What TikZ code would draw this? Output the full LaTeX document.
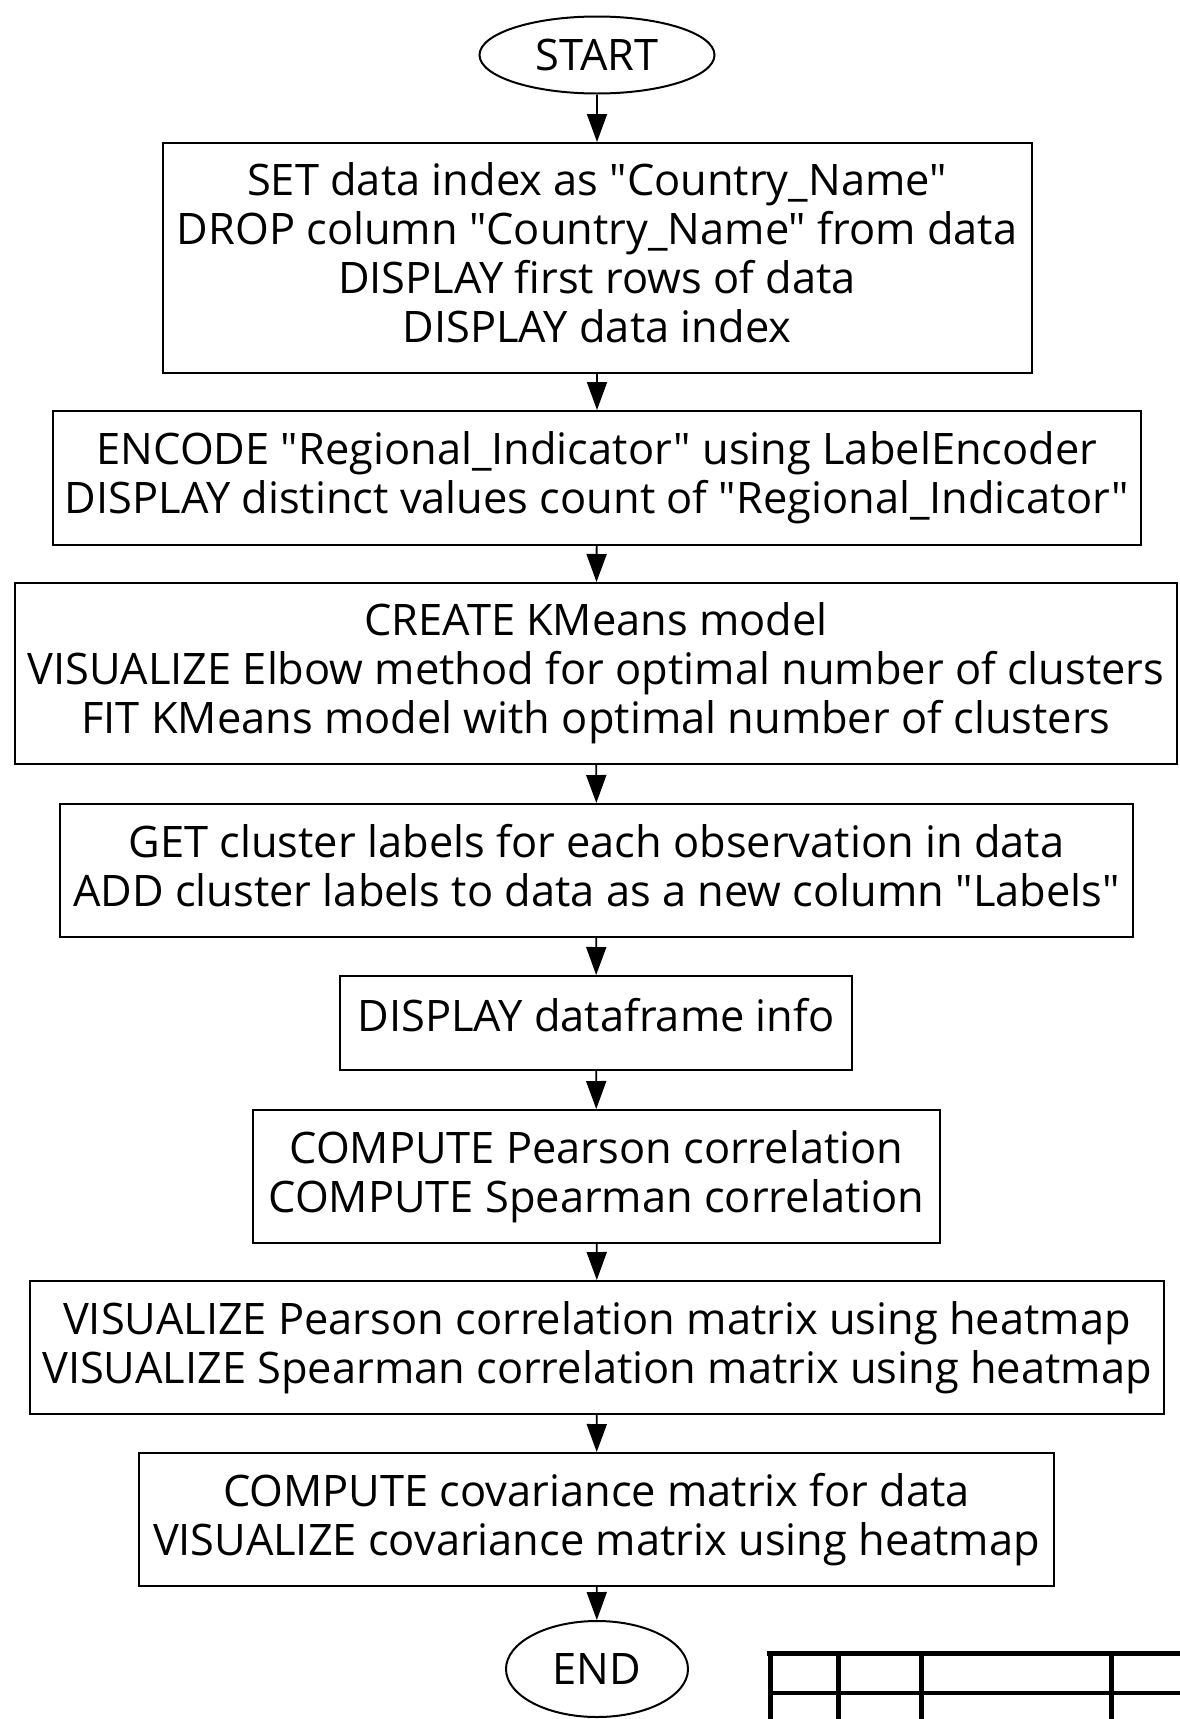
\documentclass[tikz,border=0pt]{standalone}
\usepackage{fontspec}
\setmainfont{Open Sans}[Ligatures=TeXOff]
\usetikzlibrary{shapes.geometric,arrows.meta}
\newcommand{\flowfont}{\fontsize{21.7pt}{24.5pt}\selectfont}
\begin{document}
\begin{tikzpicture}[x=0.5pt,y=-0.5pt,
  stepbox/.style={draw, line width=1pt, align=center, inner sep=0pt, font=\flowfont},
  term/.style={draw, ellipse, line width=1pt, inner sep=0pt, font=\flowfont},
  flow/.style={-{Triangle[length=14pt,width=10pt]}, line width=0.9pt},
  grid/.style={line width=2.5pt}]
\useasboundingbox (0,0) rectangle (1179,1719);

\node[term, minimum width=117.5pt, minimum height=38.5pt] (start) at (597,55) {START};

\node[stepbox, minimum width=434.5pt, minimum height=115pt, text depth=5pt] (b1) at (597,258)
  {SET data index as "Country\_Name"\\DROP column "Country\_Name" from data\\DISPLAY first rows of data\\DISPLAY data index};

\node[stepbox, minimum width=544pt, minimum height=67pt] (b2) at (597,478)
  {ENCODE "Regional\_Indicator" using LabelEncoder\\DISPLAY distinct values count of "Regional\_Indicator"};

\node[stepbox, minimum width=581pt, minimum height=90.5pt] (b3) at (596,673.5)
  {CREATE KMeans model\\VISUALIZE Elbow method for optimal number of clusters\\FIT KMeans model with optimal number of clusters};

\node[stepbox, minimum width=536.5pt, minimum height=66.5pt, text depth=5pt] (b4) at (596.5,870.5)
  {GET cluster labels for each observation in data\\ADD cluster labels to data as a new column "Labels"};

\node[stepbox, minimum width=256pt, minimum height=47pt, text depth=8pt] (b5) at (596,1023)
  {DISPLAY dataframe info};

\node[stepbox, minimum width=343.5pt, minimum height=66.5pt] (b6) at (596.5,1176.5)
  {COMPUTE Pearson correlation\\COMPUTE Spearman correlation};

\node[stepbox, minimum width=567pt, minimum height=66.5pt] (b7) at (597,1347.5)
  {VISUALIZE Pearson correlation matrix using heatmap\\VISUALIZE Spearman correlation matrix using heatmap};

\node[stepbox, minimum width=457.5pt, minimum height=66.5pt] (b8) at (596.5,1519.5)
  {COMPUTE covariance matrix for data\\VISUALIZE covariance matrix using heatmap};

\node[term, minimum width=91pt, minimum height=48pt] (end) at (597,1669) {END};

\draw[flow] (start) -- (b1);
\draw[flow] (b1) -- (b2);
\draw[flow] (b2) -- (b3);
\draw[flow] (b3) -- (b4);
\draw[flow] (b4) -- (b5);
\draw[flow] (b5) -- (b6);
\draw[flow] (b6) -- (b7);
\draw[flow] (b7) -- (b8);
\draw[flow] (b8) -- (end);

% table corner at the lower right
\draw[grid] (767,1653) -- (1185,1653);
\draw[grid] (770,1653) -- (770,1725);
\draw[grid] (838,1653) -- (838,1725);
\draw[grid] (921,1653) -- (921,1725);
\draw[grid] (1111,1653) -- (1111,1725);
\draw[line width=2pt] (770,1693) -- (1185,1693);
\end{tikzpicture}
\end{document}
